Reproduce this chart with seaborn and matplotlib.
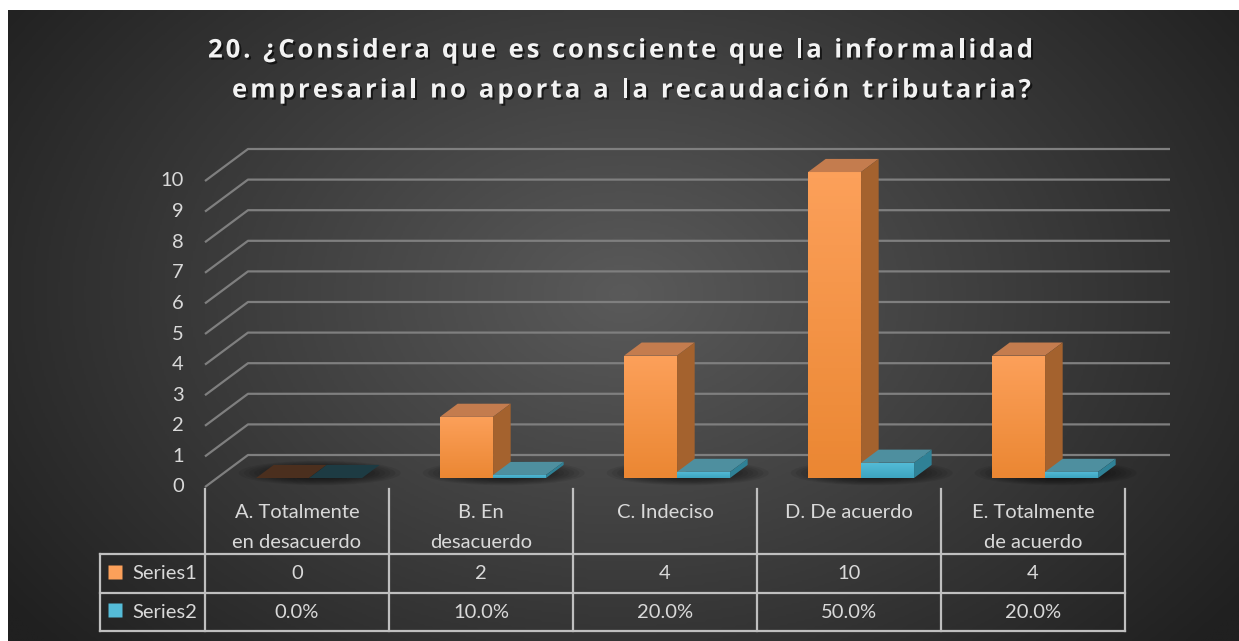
import numpy as np
import pandas as pd
import matplotlib
matplotlib.use("Agg")
import matplotlib.pyplot as plt
import matplotlib.patheffects as pe
from matplotlib.patches import Polygon, Ellipse
from matplotlib.colors import LinearSegmentedColormap
from matplotlib.font_manager import FontProperties
import seaborn as sns

# Datos del gráfico
categorias = ["A. Totalmente\nen desacuerdo", "B. En\ndesacuerdo", "C. Indeciso",
              "D. De acuerdo", "E. Totalmente\nde acuerdo"]
series1 = [0, 2, 4, 10, 4]
series2 = [0.0, 0.10, 0.20, 0.50, 0.20]
nombres_series = ["Series1", "Series2"]
ticks_y = list(range(0, 11))
titulo = ["20. ¿Considera que es consciente que la informalidad",
          "empresarial no aporta a la recaudación tributaria?"]

df = pd.DataFrame({
    "categoria": categorias * 2,
    "serie": [nombres_series[0]] * len(categorias) + [nombres_series[1]] * len(categorias),
    "valor": series1 + series2,
})

# Colores estilo Excel
naranja = {"frente": ("#FCA05A", "#EB8733"), "arriba": "#C47C4E", "lado": "#A4622E",
           "cero": "#4B2F1E"}
cian = {"frente": ("#55BCD8", "#3DA5C0"), "arriba": "#4E8F9F", "lado": "#2F8196",
        "cero": "#1D3B43"}
gris_txt = "#D9D9D9"
gris_linea = "#BFBFBF"
gris_grid = "#7F7F7F"

W, H = 1239, 641
fig = plt.figure(figsize=(W / 100, H / 100), dpi=100)
fig.patch.set_facecolor("white")
ax = fig.add_axes([0, 0, 1, 1])

# escala: una categoria = 184 px, una unidad = 30.6 px
CW, UY = 184.0, 30.6
X0, Y0 = 205, 487


def px_x(p):
    return (p - X0) / CW - 0.5


def px_y(p):
    return (Y0 - p) / UY


# Fondo con degradado radial
gy, gx = np.mgrid[0:1:300j, 0:1:600j]
r = np.sqrt(((gx - 0.5) / 0.62) ** 2 + ((gy - 0.45) / 0.85) ** 2)
r = np.clip(r, 0, 1)
fondo = LinearSegmentedColormap.from_list("fondo", ["#5A5A5A", "#202020"])
ax.imshow(fondo(r), extent=[px_x(8), px_x(W), px_y(H), px_y(10)],
          aspect="auto", zorder=0, interpolation="bilinear")

# Barras
sns.barplot(data=df, x="categoria", y="valor", hue="serie", ax=ax,
            palette=[naranja["frente"][0], cian["frente"][0]], width=0.576,
            saturation=1, legend=False, zorder=3)

# profundidad 3D
DX, DY = 43 / CW, 32 / UY
f0, f1 = 0.28, 0.41
sx, sy = f0 * DX, f0 * DY
bx, by = f1 * DX, f1 * DY

# rejilla: pared lateral y pared del fondo
x_fin = px_x(1170)
for v in ticks_y:
    ax.plot([-0.5, -0.5 + DX, x_fin], [v, v + DY, v + DY], color=gris_grid,
            lw=1.6, zorder=1, solid_capstyle="butt")
    ax.text(px_x(184), v, str(v), ha="right", va="center", color=gris_txt,
            fontsize=14.5, family="Lato")

# sombras bajo las barras
for i in range(len(categorias)):
    for s in np.linspace(1.0, 0.3, 12):
        ax.add_patch(Ellipse((i + sx + bx / 2 + 0.01, sy + by / 2 - 0.05), 0.88 * s, 0.8 * s,
                             color="black", alpha=0.07, lw=0, zorder=2))

for k, (cont, col) in enumerate(zip(ax.containers, [naranja, cian])):
    grad = LinearSegmentedColormap.from_list("g%d" % k, [col["frente"][1], col["frente"][0]])
    for bar in cont:
        bar.set_x(bar.get_x() + sx)
        bar.set_y(bar.get_y() + sy)
        x, y, w, h = bar.get_x(), bar.get_y(), bar.get_width(), bar.get_height()
        z = 3 + k
        bar.set_zorder(z)
        bar.set_edgecolor("none")
        top = y + h
        if h > 0:
            im = ax.imshow(np.linspace(0, 1, 50).reshape(-1, 1), cmap=grad,
                           extent=[x, x + w, y, top], origin="lower",
                           aspect="auto", zorder=z)
            im.set_clip_path(bar)
            c_top = col["arriba"]
        else:
            c_top = col["cero"]
        ax.add_patch(Polygon([(x, top), (x + w, top), (x + w + bx, top + by), (x + bx, top + by)],
                             closed=True, fc=c_top, ec="none", zorder=z))
        if h > 0:
            ax.add_patch(Polygon([(x + w, y), (x + w, top), (x + w + bx, top + by),
                                  (x + w + bx, y + by)],
                                 closed=True, fc=col["lado"], ec="none", zorder=z))

# Tabla de datos
n = len(categorias)
y_cab, y_r1, y_r2, y_fin = px_y(489), px_y(554), px_y(593), px_y(631)
for j in range(n + 1):
    ax.plot([j - 0.5, j - 0.5], [y_cab, y_fin], color=gris_linea, lw=1.6, zorder=6)
for yy in (y_r1, y_r2, y_fin):
    ax.plot([px_x(100), n - 0.5], [yy, yy], color=gris_linea, lw=1.6, zorder=6)
ax.plot([px_x(100), px_x(100)], [y_r1, y_fin], color=gris_linea, lw=1.6, zorder=6)

for i, cat in enumerate(categorias):
    for k, linea in enumerate(cat.split("\n")):
        ax.text(i, px_y(513 + 29 * k), linea, ha="center", va="center",
                color=gris_txt, fontsize=14.5, family="Lato")
    ax.text(i, (y_r1 + y_r2) / 2, "%d" % series1[i], ha="center", va="center",
            color=gris_txt, fontsize=14.5, family="Lato")
    ax.text(i, (y_r2 + y_fin) / 2, "{:.1%}".format(series2[i]), ha="center",
            va="center", color=gris_txt, fontsize=14.5, family="Lato")

for k, (nombre, col) in enumerate(zip(nombres_series, [naranja, cian])):
    yc = [(y_r1 + y_r2) / 2, (y_r2 + y_fin) / 2][k]
    ax.plot([px_x(115)], [yc + 0.05], marker="s", ms=10.5, mfc=col["frente"][0],
            mec="none", zorder=7)
    ax.text(px_x(197), yc, nombre, ha="right", va="center", color=gris_txt,
            fontsize=14.5, family="Lato")

# Titulo con espaciado entre letras
fp = FontProperties(family="Open Sans", weight="bold", size=18.5)
rend = fig.canvas.get_renderer()


def ancho(s):
    if not s:
        return 0.0
    return rend.get_text_width_height_descent(s, fp, ismath=False)[0]


sombra = [pe.withSimplePatchShadow(offset=(1.5, -1.5), shadow_rgbFace="black", alpha=0.6)]
for k, (linea, x_ini, x_fin_t) in enumerate(zip(titulo, [208, 232], [1033, 1031])):
    track = (x_fin_t - x_ini - ancho(linea)) / (len(linea) - 1)
    for i, ch in enumerate(linea):
        if ch == " ":
            continue
        xp = x_ini + ancho(linea[:i]) + track * i
        ax.text(px_x(xp), px_y(50 + 40 * k), ch, ha="left", va="center",
                color="#F2F2F2", fontproperties=fp, path_effects=sombra)

ax.set_xlim(px_x(0), px_x(W))
ax.set_ylim(px_y(H), px_y(0))
ax.axis("off")

fig.savefig("out.png", dpi=100)
